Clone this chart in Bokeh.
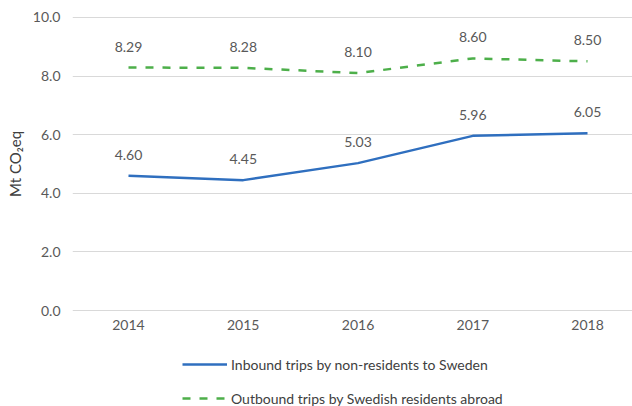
from bokeh.plotting import figure
from bokeh.layouts import column
from bokeh.models import (ColumnDataSource, Range1d, FixedTicker, NumeralTickFormatter,
                          Legend, LegendItem)
from bokeh.core.properties import value
from bokeh.embed import file_html
from bokeh.resources import INLINE

years = [2014, 2015, 2016, 2017, 2018]
inbound = [4.60, 4.45, 5.03, 5.96, 6.05]
outbound = [8.29, 8.28, 8.10, 8.60, 8.50]
series_names = ["Inbound trips by non-residents to Sweden",
                "Outbound trips by Swedish residents abroad"]
y_ticks = [0, 2, 4, 6, 8, 10]

FONT = "Lato"
BLUE = "#2F6FBF"
GREEN = "#4DAF4A"
GREY = "#595959"
DASH = "8 9"

src_in = ColumnDataSource(dict(x=years, y=inbound, t=["%.2f" % v for v in inbound]))
src_out = ColumnDataSource(dict(x=years, y=outbound, t=["%.2f" % v for v in outbound]))

p = figure(width=632, height=340, output_backend="svg", toolbar_location=None,
           x_range=Range1d(2013.512, 2018.392), y_range=Range1d(-0.03, 10.03),
           min_border_left=72, min_border_right=0, min_border_top=16, min_border_bottom=29)
p.outline_line_color = None
p.background_fill_color = "white"
p.border_fill_color = "white"

p.line("x", "y", source=src_in, line_color=BLUE, line_width=2.5)
p.line("x", "y", source=src_out, line_color=GREEN, line_width=2.5, line_dash=DASH)

for s in (src_in, src_out):
    p.text("x", "y", text="t", source=s, text_align="center", text_baseline="middle",
           y_offset=-21, text_color=GREY, text_font=value(FONT), text_font_size="14px")

p.xaxis.ticker = FixedTicker(ticks=years)
p.xaxis.formatter = NumeralTickFormatter(format="0")
p.yaxis.ticker = FixedTicker(ticks=y_ticks)
p.yaxis.formatter = NumeralTickFormatter(format="0.0")
for ax in (p.xaxis[0], p.yaxis[0]):
    ax.axis_line_color = None
    ax.major_tick_line_color = None
    ax.minor_tick_line_color = None
    ax.major_tick_in = 0
    ax.major_tick_out = 0
    ax.major_label_text_color = GREY
    ax.major_label_text_font = FONT
    ax.major_label_text_font_size = "14px"
p.xaxis.major_label_standoff = 8
p.yaxis.major_label_standoff = 12
p.yaxis.axis_label = "Mt CO\u2082eq"
p.yaxis.axis_label_text_font = FONT
p.yaxis.axis_label_text_font_size = "15px"
p.yaxis.axis_label_text_font_style = "normal"
p.yaxis.axis_label_text_color = "#404040"
p.yaxis.axis_label_standoff = 6

p.xgrid.grid_line_color = None
p.ygrid.grid_line_color = "#D9D9D9"
p.ygrid.grid_line_width = 1

# legend strip below the chart (its proxy lines use the same data, out of view)
lg = figure(width=632, height=66, output_backend="svg", toolbar_location=None,
            x_range=Range1d(0, 1), y_range=Range1d(0, 1),
            x_axis_location=None, y_axis_location=None,
            min_border_left=0, min_border_right=0, min_border_top=0, min_border_bottom=0)
lg.outline_line_color = None
lg.grid.visible = False
lr_in = lg.line("x", "y", source=src_in, line_color=BLUE, line_width=2.5)
lr_out = lg.line("x", "y", source=src_out, line_color=GREEN, line_width=2.5, line_dash=DASH)
legend = Legend(items=[LegendItem(label=series_names[0], renderers=[lr_in]),
                       LegendItem(label=series_names[1], renderers=[lr_out])],
                orientation="vertical", location=(110, -2),
                glyph_width=45, glyph_height=20, label_height=20, label_standoff=4,
                spacing=14, padding=0, margin=0, border_line_color=None,
                background_fill_alpha=0,
                label_text_font=FONT, label_text_font_size="14px", label_text_color="#404040")
lg.add_layout(legend, "center")

layout = column(p, lg, spacing=0)
open("out.html", "w").write(file_html(layout, INLINE))
